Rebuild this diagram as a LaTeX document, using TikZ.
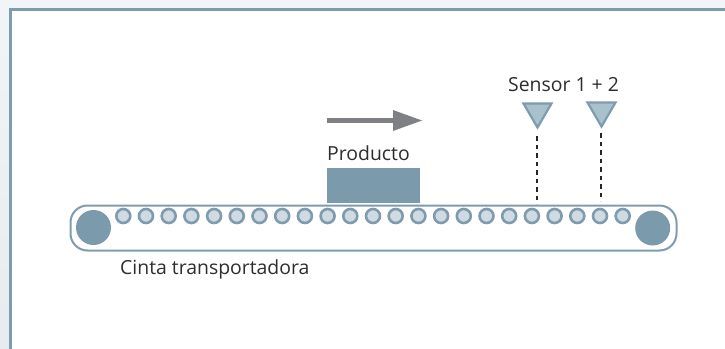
\documentclass[tikz,border=0pt]{standalone}
\usepackage{fontspec}
\setmainfont{Open Sans}
\usetikzlibrary{calc}
\definecolor{framec}{HTML}{7F9CAE}
\definecolor{rollfill}{HTML}{CFDAE2}
\definecolor{sensfill}{HTML}{A9C0CD}
\definecolor{bigc}{HTML}{7B9AAB}
\definecolor{arrowc}{HTML}{7F8084}
\definecolor{txt}{HTML}{2D2D2D}
\tikzset{
 lbl/.style={inner sep=0pt,anchor=base west,text=txt,font=\fontsize{19.4}{22}\selectfont},
 rollernode/.style={circle,draw=framec,line width=2.6pt,fill=rollfill,minimum size=14pt,inner sep=0pt},
 bigroller/.style={circle,fill=bigc,minimum size=35pt,inner sep=0pt},
 sensorshape/.style={draw=framec,line width=2.2pt,fill=sensfill,line join=miter},
 beam/.style={draw=black!85,line width=1.9pt,dash pattern=on 4.5pt off 4pt}
}
\begin{document}
\begin{tikzpicture}[x=1pt,y=-1pt]
\useasboundingbox (0,0) rectangle (725,348);
\begin{scope}
\clip (0,0) rectangle (725,348);
\shade[top color=white!90!framec, bottom color=white!80!framec] (0,0) rectangle (726,350);
\fill[white] (10,10) rectangle (727,350);
\draw[framec,line width=3pt] (10.5,350) -- (10.5,9.5) -- (727,9.5);
\end{scope}
% belt
\draw[framec,line width=2pt,fill=white,rounded corners=17pt] (70.5,205.5) rectangle (676.5,250.5);
\node[bigroller] (bl) at (93.5,227.5) {};
\node[bigroller] (br) at (652.7,228) {};
\foreach \i in {0,...,22}{
  \node[rollernode] (r\i) at ({123.3+22.7*\i},216) {};
}
% product
\node[draw=none,fill=bigc,minimum width=93pt,minimum height=35pt,inner sep=0pt,anchor=north west] (prod) at (327,168) {};
\node[lbl] (prodl) at (327,160) {Producto};
% arrow
\coordinate (a1) at (327,120.5);
\coordinate (a2) at (393,120.5);
\coordinate (a3) at (422,120.5);
\draw[arrowc,line width=5pt] (a1) -- (a2);
\fill[arrowc] (393,110) -- (a3) -- (393,131) -- cycle;
% sensors
\draw[sensorshape] (523.5,103.5) -- (551.5,103.5) -- (537.5,127.5) -- cycle;
\draw[sensorshape] (587.5,102.5) -- (615.5,102.5) -- (601.5,126.5) -- cycle;
\coordinate (s1) at (537.3,136);
\coordinate (s1b) at (537.3,204);
\coordinate (s2) at (601.3,133);
\coordinate (s2b) at (601.3,201);
\draw[beam] (s1) -- (s1b);
\draw[beam] (s2) -- (s2b);
\node[lbl] (sl) at (508,91) {Sensor 1 + 2};
\node[lbl] (cl) at (120,274) {Cinta transportadora};
\end{tikzpicture}
\end{document}
